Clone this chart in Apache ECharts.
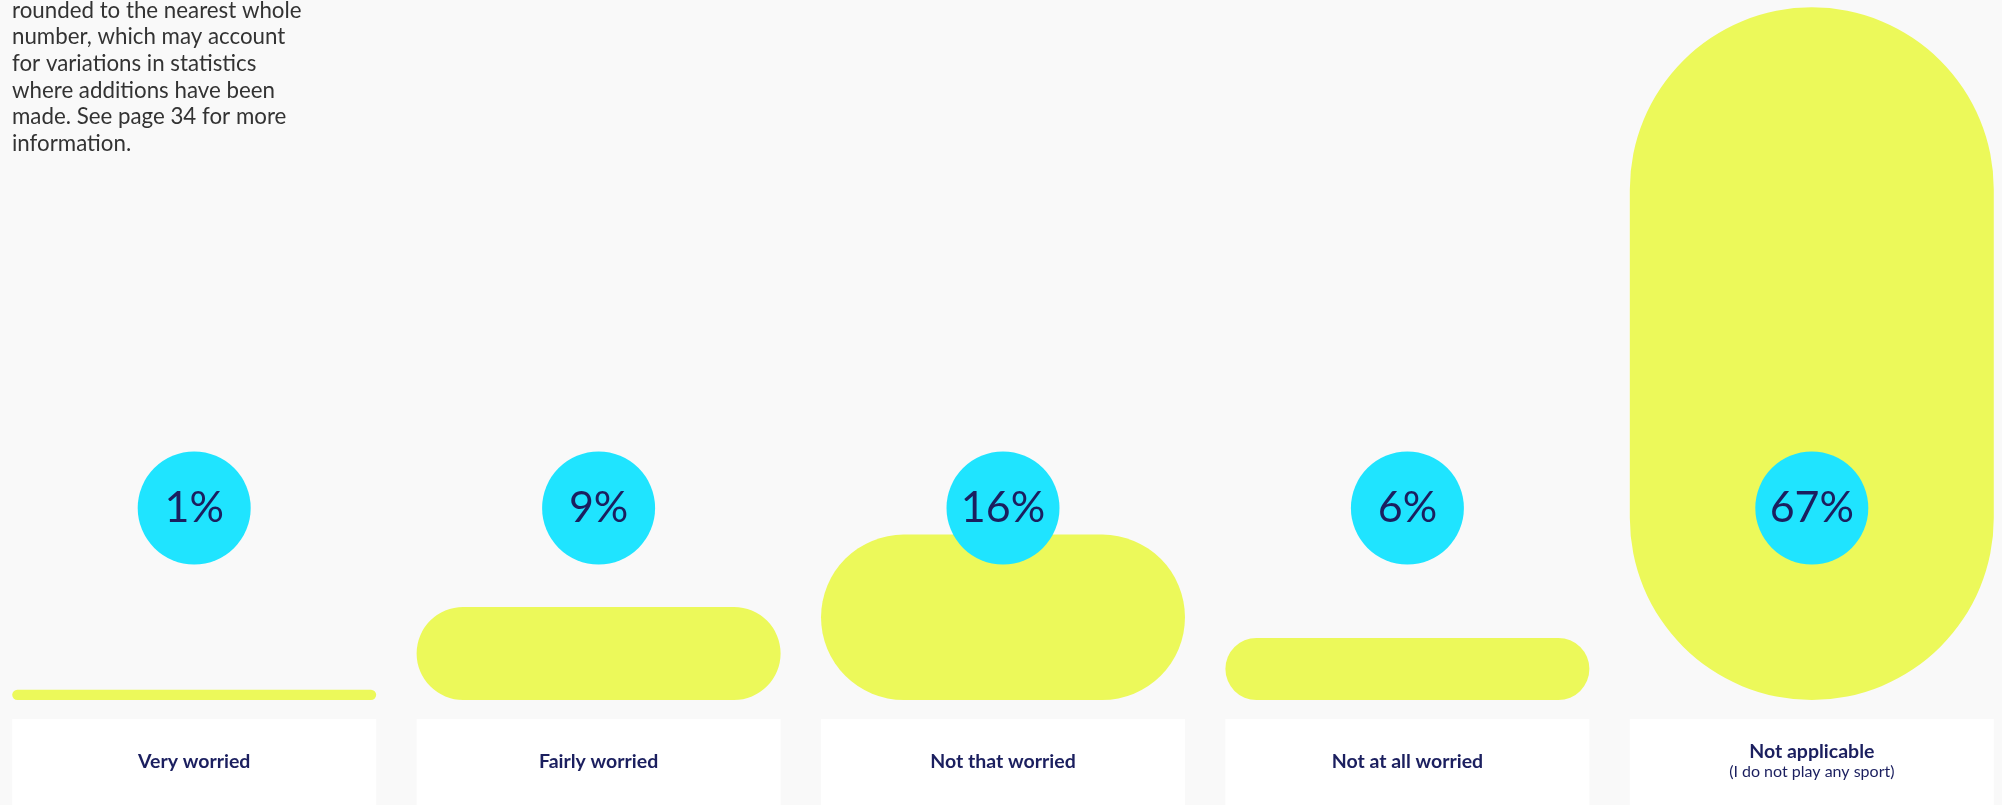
<!DOCTYPE html>
<html>
<head>
<meta charset="utf-8">
<script src="https://cdn.jsdelivr.net/npm/echarts@6/dist/echarts.min.js"></script>
<style>
  html, body { margin: 0; padding: 0; background: #f9f9f9; }
  #chart { width: 2002px; height: 805px; }
</style>
</head>
<body>
<div id="chart"></div>
<script>
// Survey answers and their shares (%)
const categories = ['Very worried', 'Fairly worried', 'Not that worried', 'Not at all worried', 'Not applicable'];
const subCaptions = ['', '', '', '', '(I do not play any sport)'];
const shares = [1, 9, 16, 6, 67];

// Footnote shown at the top left
const noteLines = [
  'rounded to the nearest whole',
  'number, which may account',
  'for variations in statistics',
  'where additions have been',
  'made. See page 34 for more',
  'information.'
];

const NAVY = '#1b1f5f';
const LIME = '#ecf95a';
const CYAN = '#1fe4ff';
const BADGE_RISE = 192;   // distance of the percentage badges above the baseline, px
const BADGE_R = 56.5;

const chart = echarts.init(document.getElementById('chart'), null, { renderer: 'canvas' });

chart.setOption({
  backgroundColor: '#f9f9f9',
  animation: false,
  title: {
    text: noteLines.join('\n'),
    left: 12,
    top: -3,
    padding: 0,
    textStyle: {
      fontFamily: 'Lato',
      fontWeight: 'normal',
      fontSize: 22.3,
      lineHeight: 26.7,
      color: '#333333'
    }
  },
  grid: {
    left: -8,
    top: -3,
    width: 2022,
    height: 703,
    outerBoundsMode: 'none',
    containLabel: false
  },
  xAxis: {
    type: 'category',
    data: categories,
    axisLine: { show: false },
    axisTick: { show: false },
    splitLine: { show: false },
    axisLabel: {
      interval: 0,
      margin: 19,
      width: 364,
      overflow: 'none',
      hideOverlap: false,
      backgroundColor: '#ffffff',
      padding: [23, 0, 23, 0],
      formatter: (value, idx) => subCaptions[idx]
        ? '{b|' + value + '}\n{s|' + subCaptions[idx] + '}'
        : '{t|' + value + '}',
      rich: {
        t: { fontFamily: 'Lato', fontWeight: 'bold', fontSize: 19.5, lineHeight: 40, color: NAVY, align: 'center' },
        b: { fontFamily: 'Lato', fontWeight: 'bold', fontSize: 19.5, lineHeight: 20, color: NAVY, align: 'center' },
        s: { fontFamily: 'Lato', fontWeight: 'normal', fontSize: 16, lineHeight: 20, color: NAVY, align: 'center' }
      }
    }
  },
  yAxis: {
    type: 'value',
    min: 0,
    max: 68,
    show: false,
    splitLine: { show: false }
  },
  series: [
    {
      type: 'bar',
      data: shares,
      barCategoryGap: '10%',
      itemStyle: { color: LIME, borderRadius: 999 },
      silent: true,
      z: 2
    },
    {
      type: 'custom',
      z: 5,
      clip: false,
      silent: true,
      data: shares.map((v, i) => [i, v]),
      encode: { x: 0, y: 1 },
      renderItem: (params, api) => {
        const base = api.coord([api.value(0), 0]);
        const cx = base[0];
        const cy = base[1] - BADGE_RISE;
        return {
          type: 'group',
          children: [
            { type: 'circle', shape: { cx: cx, cy: cy, r: BADGE_R }, style: { fill: CYAN } },
            {
              type: 'text',
              style: {
                text: api.value(1) + '%',
                x: cx,
                y: cy,
                align: 'center',
                verticalAlign: 'middle',
                fontFamily: 'Lato',
                fontWeight: 'normal',
                fontSize: 43,
                fill: NAVY
              }
            }
          ]
        };
      }
    }
  ]
});
</script>
</body>
</html>
